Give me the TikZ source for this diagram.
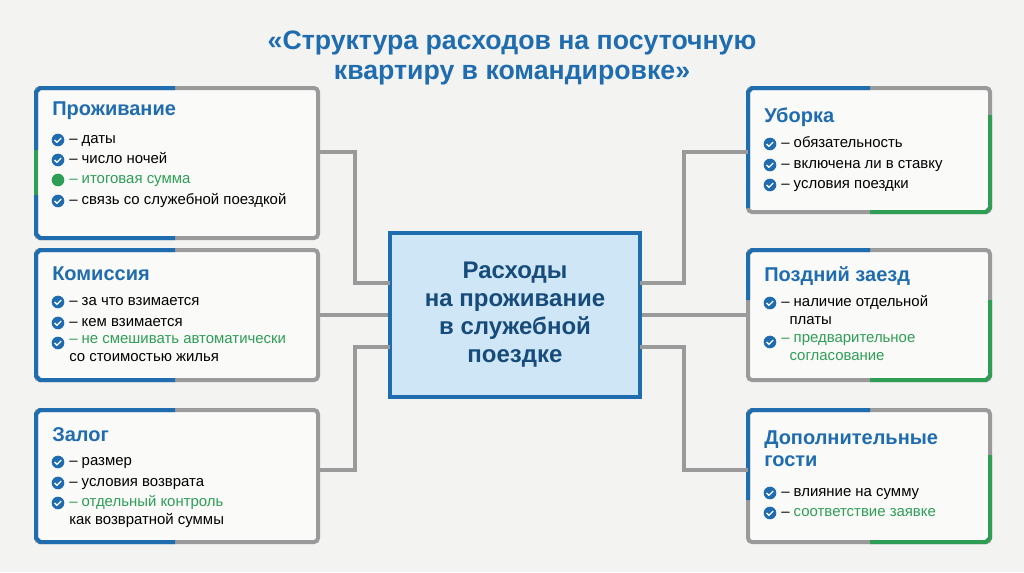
\documentclass[tikz,border=0pt]{standalone}
\usepackage{fontspec}
\setmainfont{Liberation Sans}
\definecolor{bluey}{HTML}{1F6CAE}
\definecolor{greeny}{HTML}{2E9E55}
\definecolor{greyline}{HTML}{9A9A9A}
\definecolor{bgc}{HTML}{F3F3F1}
\definecolor{centerfill}{HTML}{CFE6F7}
\tikzset{
  box/.style={draw=greyline, line width=3pt, rounded corners=3pt, fill=white!60!bgc},
  head/.style={anchor=west, font=\fontsize{15}{17}\selectfont\bfseries, text=bluey, align=left, inner sep=0pt},
  item/.style={anchor=mid west, font=\fontsize{11.2}{13.5}\selectfont, align=left, inner sep=0pt},
  tick/.style={circle, fill=#1, minimum size=9.5pt, inner sep=0pt},
  link/.style={draw=greyline, line width=3pt},
  accb/.style={draw=bluey, line width=3pt},
  accg/.style={draw=greeny, line width=3pt},
}
\newcommand{\chk}[3]{% name, x, y
  \node[tick=bluey] (#1) at (#2,#3) {};
  \draw[white, line width=1pt] ([shift={(-2.5pt,0pt)}]#1.center) -- ++(1.7pt,-1.7pt) -- ++(3.2pt,3.2pt);
}
\begin{document}
\begin{tikzpicture}[x=0.75pt, y=-0.75pt]
\useasboundingbox[fill=bgc] (0,0) rectangle (1024,572);

% title
\node[font=\fontsize{20}{22}\selectfont\bfseries, text=bluey, align=center] (title) at (512,58)
  {«Структура расходов на посуточную\\квартиру в командировке»};

% boxes
\draw[box] (36,88) rectangle (318,238);   \coordinate (L1) at (318,152);
\draw[box] (36,250) rectangle (318,380);  \coordinate (L2) at (318,315);
\draw[box] (36,410) rectangle (318,542);  \coordinate (L3) at (318,470);
\draw[box] (748,88) rectangle (990,212);  \coordinate (R1) at (748,152);
\draw[box] (748,250) rectangle (990,380); \coordinate (R2) at (748,315);
\draw[box] (748,410) rectangle (990,542); \coordinate (R3) at (748,470);

% accents
\draw[accb] (175,88) -- (40,88) -- (36,92) -- (36,150);
\draw[accg] (36,150) -- (36,195);
\draw[accb] (36,195) -- (36,234) -- (40,238) -- (175,238);
\draw[accb] (175,250) -- (40,250) -- (36,254) -- (36,376) -- (40,380) -- (175,380);
\draw[accb] (175,410) -- (40,410) -- (36,414) -- (36,538) -- (40,542) -- (175,542);
\draw[accb] (870,88) -- (752,88) -- (748,92) -- (748,208);
\draw[accg] (990,115) -- (990,208) -- (986,212) -- (870,212);
\draw[accb] (870,250) -- (752,250) -- (748,254) -- (748,300);
\draw[accg] (990,300) -- (990,376) -- (986,380) -- (870,380);
\draw[accb] (870,410) -- (752,410) -- (748,414) -- (748,500);
\draw[accg] (990,455) -- (990,538) -- (986,542) -- (870,542);

% center
\node[draw=bluey, line width=3.5pt, fill=centerfill, minimum width=250*0.75pt, minimum height=164*0.75pt,
  font=\fontsize{18}{21}\selectfont\bfseries, text=bluey!70!black, align=center] (center) at (515,315)
  {Расходы\\на проживание\\в служебной\\поездке};
\coordinate (cL1) at (390,283); \coordinate (cL3) at (390,347);
\coordinate (cR1) at (640,283); \coordinate (cR3) at (640,347);

% connectors
\draw[link] (L1) -- (355,152) |- (cL1);
\draw[link] (L2) -- (center.west |- L2);
\draw[link] (L3) -- (355,470) |- (cL3);
\draw[link] (R1) -- (684,152) |- (cR1);
\draw[link] (R2) -- (center.east |- R2);
\draw[link] (R3) -- (684,470) |- (cR3);

% left 1
\node[head] (h1) at (52,111) {Проживание};
\chk{a1}{58}{140} \node[item] at (69,140) {– даты};
\chk{a2}{58}{160} \node[item] at (69,160) {– число ночей};
\node[tick=greeny] (a3) at (58,180) {}; \node[item, text=greeny] at (69,180) {– итоговая сумма};
\chk{a4}{58}{201} \node[item] at (69,201) {– связь со служебной поездкой};

% left 2
\node[head] (h2) at (52,274) {Комиссия};
\chk{b1}{58}{302} \node[item] at (69,302) {– за что взимается};
\chk{b2}{58}{323} \node[item] at (69,323) {– кем взимается};
\chk{b3}{58}{343} \node[item, anchor=north west] at (69,335) {\textcolor{greeny}{– не смешивать автоматически}\\со стоимостью жилья};

% left 3
\node[head] (h3) at (52,435) {Залог};
\chk{c1}{58}{462} \node[item] at (69,462) {– размер};
\chk{c2}{58}{483} \node[item] at (69,483) {– условия возврата};
\chk{c3}{58}{503} \node[item, anchor=north west] at (69,495) {\textcolor{greeny}{– отдельный контроль}\\как возвратной суммы};

% right 1
\node[head] (h4) at (764,117) {Уборка};
\chk{d1}{770}{144} \node[item] at (781,144) {– обязательность};
\chk{d2}{770}{165} \node[item] at (781,165) {– включена ли в ставку};
\chk{d3}{770}{185} \node[item] at (781,185) {– условия поездки};

% right 2
\node[head] (h5) at (764,276) {Поздний заезд};
\chk{e1}{770}{303} \node[item, anchor=north west] at (781,295) {– наличие отдельной\\\ \ платы};
\chk{e2}{770}{342} \node[item, anchor=north west, text=greeny] at (781,334) {– предварительное\\\ \ согласование};

% right 3
\node[head, anchor=north west] (h6) at (764,430) {Дополнительные\\гости};
\chk{f1}{770}{493} \node[item] at (781,493) {– влияние на сумму};
\chk{f2}{770}{513} \node[item] at (781,513) {– \textcolor{greeny}{соответствие заявке}};
\end{tikzpicture}
\end{document}
